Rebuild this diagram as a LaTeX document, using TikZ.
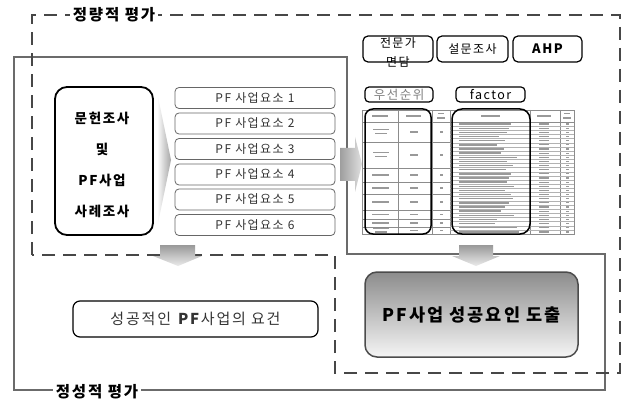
\documentclass[tikz,border=0pt]{standalone}
\usepackage{fontspec}
\setmainfont{Noto Sans CJK KR}[LetterSpace=12]
\begin{document}
\begin{tikzpicture}[x=1pt,y=-1pt,
  dashline/.style={draw=black!72, line width=2.4pt, dash pattern=on 13pt off 8pt},
  solidline/.style={draw=black!58, line width=1.6pt},
  grouplabel/.style={fill=white, font=\bfseries\fontsize{15.5}{17}\selectfont, inner sep=3pt},
  elbox/.style={draw=black!60, line width=0.8pt, rounded corners=4pt, minimum width=160pt, minimum height=21pt, font=\fontsize{12}{14}\selectfont, text=black!80, inner sep=0pt},
  topbox/.style={draw=black, line width=1.2pt, rounded corners=5pt, minimum height=26pt, inner sep=0pt, font=\fontsize{12}{14}\selectfont},
  smallbox/.style={draw=black, line width=1.2pt, rounded corners=4pt, minimum height=15pt, inner sep=0pt, font=\fontsize{12.5}{14}\selectfont},
  smudge/.style={fill=black!40},
  grid/.style={draw=black!45, line width=0.35pt},
  bandbox/.style={draw=black, line width=1.5pt, rounded corners=9pt},
  arrowshade/.style={top color=black!40, bottom color=black!8}
]
\useasboundingbox (0,0) rectangle (628,403);
\fill[white] (0,0) rectangle (628,403);

% qualitative (solid) region
\draw[solidline, line join=miter] (14,57) -- (347,57) -- (347,254) -- (605,254) -- (605,390) -- (14,390) -- cycle;
% quantitative (dashed) region
\draw[dashline, line join=miter] (32,255) -- (32,15) -- (620,15) -- (620,373) -- (335,373) -- (335,255) -- cycle;

\node[grouplabel] (qlabel) at (114,15) {정량적 평가};
\node[grouplabel] (slabel) at (97,392) {정성적 평가};

% literature review box
\node[draw, line width=1.8pt, rounded corners=12pt, minimum width=98pt, minimum height=148pt] (lit) at (104,161) {};
\node[align=center, font=\bfseries\fontsize{13.5}{31}\selectfont] (littext) at (102,165) {문헌조사\\및\\PF사업\\사례조사};

% chevron between
\shade[left color=white, right color=black!35] (157,92) -- (171,160) -- (157,228) -- cycle;

% PF elements
\node[elbox] (e1) at (255,98) {PF 사업요소 1};
\node[elbox] (e2) at (255,123.5) {PF 사업요소 2};
\node[elbox] (e3) at (255,149) {PF 사업요소 3};
\node[elbox] (e4) at (255,174.5) {PF 사업요소 4};
\node[elbox] (e5) at (255,199.5) {PF 사업요소 5};
\node[elbox] (e6) at (255,225) {PF 사업요소 6};

% block arrow to table
\shade[left color=black!38, right color=black!12] (340,148) -- (355,148) -- (355,137) -- (362,164) -- (355,192) -- (355,181) -- (340,181) -- cycle;

% method boxes
\node[topbox, minimum width=70pt] (interview) at (398,49) {};
\node[align=center, font=\fontsize{12}{19}\selectfont, inner sep=0pt] (interviewtext) at (398,52) {전문가\\면담};
\node[topbox, minimum width=71pt] (survey) at (472.5,49) {설문조사};
\node[topbox, minimum width=69pt, font=\bfseries\fontsize{13}{15}\selectfont] (ahp) at (547.5,49) {AHP};

\node[smallbox, minimum width=68pt, text=black!50] (priority) at (399,94.5) {우선순위};
\node[smallbox, minimum width=69pt] (factor) at (490.5,94.5) {factor};

% table
\draw[grid] (362,110) rectangle (574,234);
\foreach \x in {398,432,450,530,560} \draw[grid] (\x,110) -- (\x,234);
\draw[grid] (362,122) -- (574,122);
\foreach \y in {142,168,182,194,210,219,227} \draw[grid] (362,\y) -- (450,\y);
\foreach \i in {1,...,26} \draw[grid, draw=black!30] (450,{122+\i*4.148}) -- (574,{122+\i*4.148});
% header smudges
\fill[smudge] (372,115.2) rectangle (388,116.8);
\fill[smudge] (406,115.2) rectangle (421,116.8);
\fill[smudge] (438,113) rectangle (444,114.3);
\fill[smudge] (437,117.3) rectangle (445,118.6);
\fill[smudge] (481,115.2) rectangle (500,116.8);
\fill[smudge] (537,115.2) rectangle (551,116.8);
\fill[smudge] (564,113) rectangle (570,114.3);
\fill[smudge] (563,117.3) rectangle (571,118.6);
% left group smudges
\foreach \a/\b/\t in {122/142/2,142/168/2,168/182/1,182/194/1,194/210/1,210/219/1,219/227/1,227/234/2} {
  \pgfmathsetmacro{\m}{(\a+\b)/2}
  \ifnum\t=2
    \fill[smudge] (373,\m-3) rectangle (389,\m-1.6);
    \fill[smudge] (375,\m+0.6) rectangle (387,\m+2);
  \else
    \fill[smudge] (372,\m-0.8) rectangle (389,\m+0.8);
  \fi
  \fill[smudge] (410,\m-0.7) rectangle (418,\m+0.7);
  \fill[smudge] (440,\m-0.8) rectangle (443,\m+0.8);
}
% right group smudges
\foreach \w [count=\i from 0] in {52,50,48,40,46,38,45,42,58,48,54,47,52,50,48,55,46,52,54,50,46,42,55,38,36,58,60} {
  \pgfmathsetmacro{\m}{122+(\i+0.5)*4.148}
  \fill[smudge] (459,\m-0.7) rectangle (459+\w,\m+0.7);
  \fill[smudge] (539,\m-0.6) rectangle (549,\m+0.6);
  \fill[smudge] (566,\m-0.6) rectangle (569,\m+0.6);
}
\draw[bandbox, rounded corners=8pt] (365,109) rectangle (431,234);
\draw[bandbox, rounded corners=10pt] (452,109) rectangle (530,234);

% down arrows
\shade[arrowshade] (160,245) -- (195,245) -- (195,256) -- (202,256) -- (178,266) -- (153,256) -- (160,256) -- cycle;
\shade[arrowshade] (459,245) -- (493,245) -- (493,256) -- (500,256) -- (476,266) -- (452,256) -- (459,256) -- cycle;

% results
\node[draw, line width=1.2pt, rounded corners=7pt, minimum width=245pt, minimum height=36pt, font=\fontsize{15}{17}\selectfont, text=black!80] (req) at (195.5,319) {성공적인 \textbf{PF}사업의 요건};
\node[draw=black!70, line width=1.5pt, rounded corners=12pt, minimum width=213pt, minimum height=85pt, top color=black!45, bottom color=black!4, font=\bfseries\fontsize{17.5}{19}\selectfont] (success) at (471.5,314.5) {PF사업 성공요인 도출};
\end{tikzpicture}
\end{document}
